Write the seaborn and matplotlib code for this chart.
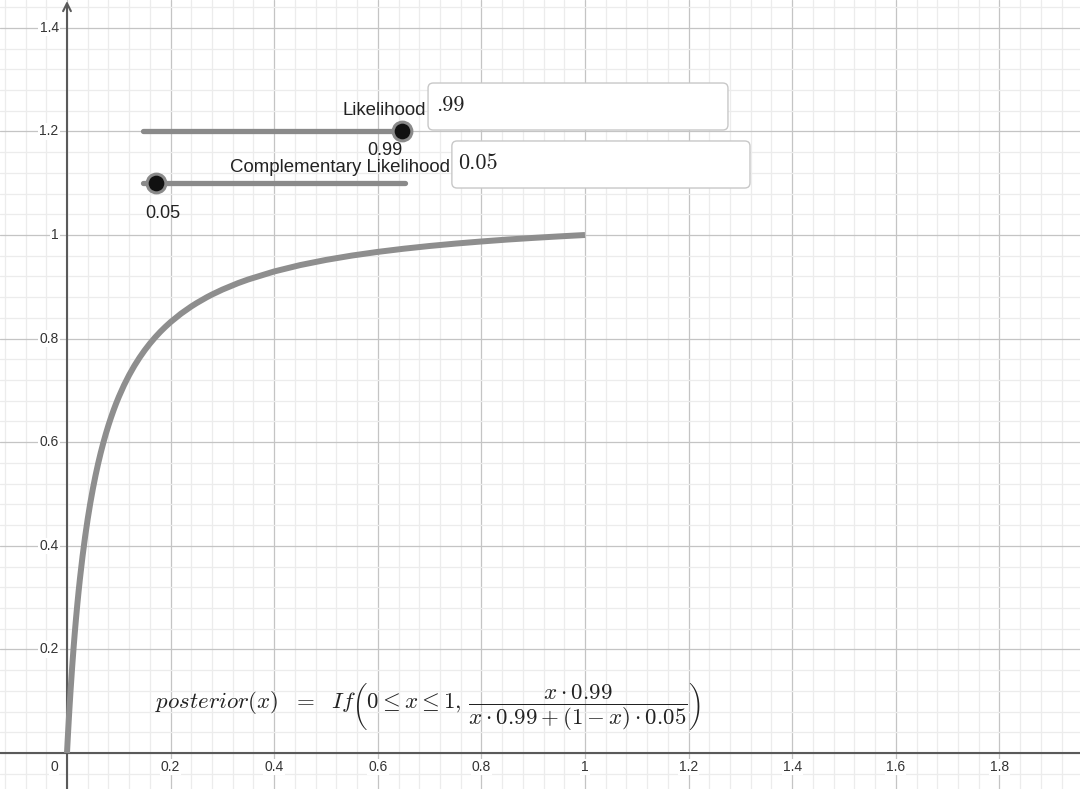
import matplotlib
matplotlib.use("Agg")
import matplotlib.pyplot as plt
import seaborn as sns
import pandas as pd
from matplotlib.patches import FancyBboxPatch

# ---- data ----
x_vals = [0.0, 0.001, 0.002, 0.003, 0.004, 0.005, 0.007, 0.01, 0.0125, 0.015, 0.0175,
          0.02, 0.0225, 0.025, 0.03, 0.035, 0.04, 0.045, 0.05, 0.055, 0.06, 0.065,
          0.07, 0.075, 0.08, 0.085, 0.09, 0.095, 0.10, 0.11, 0.12, 0.13, 0.14, 0.15,
          0.16, 0.17, 0.18, 0.19, 0.20, 0.22, 0.24, 0.25, 0.27, 0.28, 0.30, 0.33,
          0.35, 0.40, 0.45, 0.50, 0.55, 0.60, 0.65, 0.70, 0.75, 0.80, 0.85, 0.90,
          0.95, 1.00]
posterior = [0.0, 0.0194, 0.0382, 0.0562, 0.0737, 0.0905, 0.1225, 0.1667, 0.2004, 0.2317,
             0.2607, 0.2878, 0.3131, 0.3367, 0.3798, 0.4180, 0.4521, 0.4827, 0.5103,
             0.5354, 0.5583, 0.5792, 0.5984, 0.6162, 0.6326, 0.6478, 0.6620, 0.6752,
             0.6875, 0.7099, 0.7297, 0.7474, 0.7632, 0.7775, 0.7904, 0.8022, 0.8130,
             0.8228, 0.8319, 0.8481, 0.8621, 0.8684, 0.8799, 0.8851, 0.8946, 0.9070,
             0.9142, 0.9296, 0.9419, 0.9519, 0.9603, 0.9674, 0.9735, 0.9788, 0.9834,
             0.9875, 0.9912, 0.9944, 0.9973, 1.0]
x_tick_values = [0.2, 0.4, 0.6, 0.8, 1.0, 1.2, 1.4, 1.6, 1.8]
y_tick_values = [0.2, 0.4, 0.6, 0.8, 1.0, 1.2, 1.4]
slider_names = ["Likelihood", "Complementary Likelihood"]
slider_values = [0.99, 0.05]
input_texts = [".99", "0.05"]
formula = (r"$posterior(x)\ \ =\ \ If\left(0 \leq x \leq 1,\,"
           r"\dfrac{x\cdot 0.99}{x\cdot 0.99+(1-x)\cdot 0.05}\right)$")

# ---- styling ----
sns.set_style("white")
plt.rcParams["font.family"] = ["Liberation Sans", "DejaVu Sans"]
plt.rcParams["mathtext.fontset"] = "cm"

fig = plt.figure(figsize=(10.8, 7.89), dpi=100)
ax = fig.add_axes([0, 0, 1, 1])
XMIN, XMAX = -67 / 518, (1080 - 67) / 518
YMIN, YMAX = -(789 - 753) / 518, 753 / 518
for s in ax.spines.values():
    s.set_visible(False)

# grid
major_x = [i * 0.2 for i in range(-1, 11)]
minor_x = [i * 0.04 for i in range(-4, 50)]
major_y = [i * 0.2 for i in range(0, 8)]
minor_y = [i * 0.04 for i in range(-2, 37)]
ax.set_xticks(major_x)
ax.set_xticks(minor_x, minor=True)
ax.set_yticks(major_y)
ax.set_yticks(minor_y, minor=True)
ax.grid(which="minor", color="#ececec", lw=0.9)
ax.grid(which="major", color="#c4c4c4", lw=0.9)
ax.tick_params(which="both", length=0, labelbottom=False, labelleft=False)
ax.set_axisbelow(True)

# curve
df = pd.DataFrame({"x": x_vals, "posterior": posterior})
sns.lineplot(data=df, x="x", y="posterior", ax=ax, color="#8e8e8e", lw=4.3,
             solid_capstyle="butt", zorder=4)
ax.set_xlabel("")
ax.set_ylabel("")

ax.set_xlim(XMIN, XMAX)
ax.set_ylim(YMIN, YMAX)

# axes lines
ax.axhline(0, color="#5a5a5a", lw=1.5, zorder=2)
ax.annotate("", xy=(0, YMAX - 0.002), xytext=(0, YMIN),
            arrowprops=dict(arrowstyle="->", color="#5a5a5a", lw=1.5,
                            mutation_scale=14, shrinkA=0, shrinkB=0), zorder=2)

# tick labels
lab_kw = dict(fontsize=10, color="#333333", zorder=3,
              bbox=dict(facecolor="white", edgecolor="none", pad=0.8))
ax.text(-0.025, -0.027, "0", ha="center", va="center", **lab_kw)
for v in x_tick_values:
    ax.text(v, -0.027, f"{v:g}", ha="center", va="center", **lab_kw)
for v in y_tick_values:
    ax.text(-0.016, v, f"{v:g}", ha="right", va="center", **lab_kw)

# sliders
slider_y = [1.2, 1.1]
slider_x0, slider_len = 0.147, 0.505
label_pos = [(0.693, 1.241), (0.739, 1.131)]
value_pos = [(0.614, 1.164), (0.185, 1.042)]
box_pos = [(0.697, 1.2027, 0.579, 0.0907), (0.743, 1.0907, 0.5755, 0.0908)]
text_off = [0.0165, 0.0125]
for i, name in enumerate(slider_names):
    y = slider_y[i]
    ax.plot([slider_x0, slider_x0 + slider_len], [y, y], color="#8a8a8a", lw=3.8,
            solid_capstyle="round", zorder=5)
    px = slider_x0 + slider_values[i] * slider_len
    ax.plot([px], [y], marker="o", markersize=13.5, markerfacecolor="#111111",
            markeredgecolor="#8a8a8a", markeredgewidth=2.2, zorder=6)
    ax.text(value_pos[i][0], value_pos[i][1], f"{slider_values[i]:g}", ha="center",
            va="center", fontsize=13, color="#222222", zorder=7)
    ax.text(label_pos[i][0], label_pos[i][1], name, ha="right", va="center",
            fontsize=13.4, color="#222222", zorder=7)
    bx, by, bw, bh = box_pos[i]
    ax.add_patch(FancyBboxPatch((bx, by), bw, bh, boxstyle="round,pad=0,rounding_size=0.01",
                                facecolor="white", edgecolor="#c8c8c8", lw=1.0, zorder=6))
    ax.text(bx + text_off[i], by + bh / 2 + 0.002, input_texts[i], ha="left", va="center",
            fontsize=16, color="#222222", zorder=7, family=["cmr10", "DejaVu Serif"])

# formula
ax.text(0.17, 0.087, formula, ha="left", va="center", fontsize=16.5, color="#222222",
        zorder=7)

fig.savefig("out.png", dpi=100)
